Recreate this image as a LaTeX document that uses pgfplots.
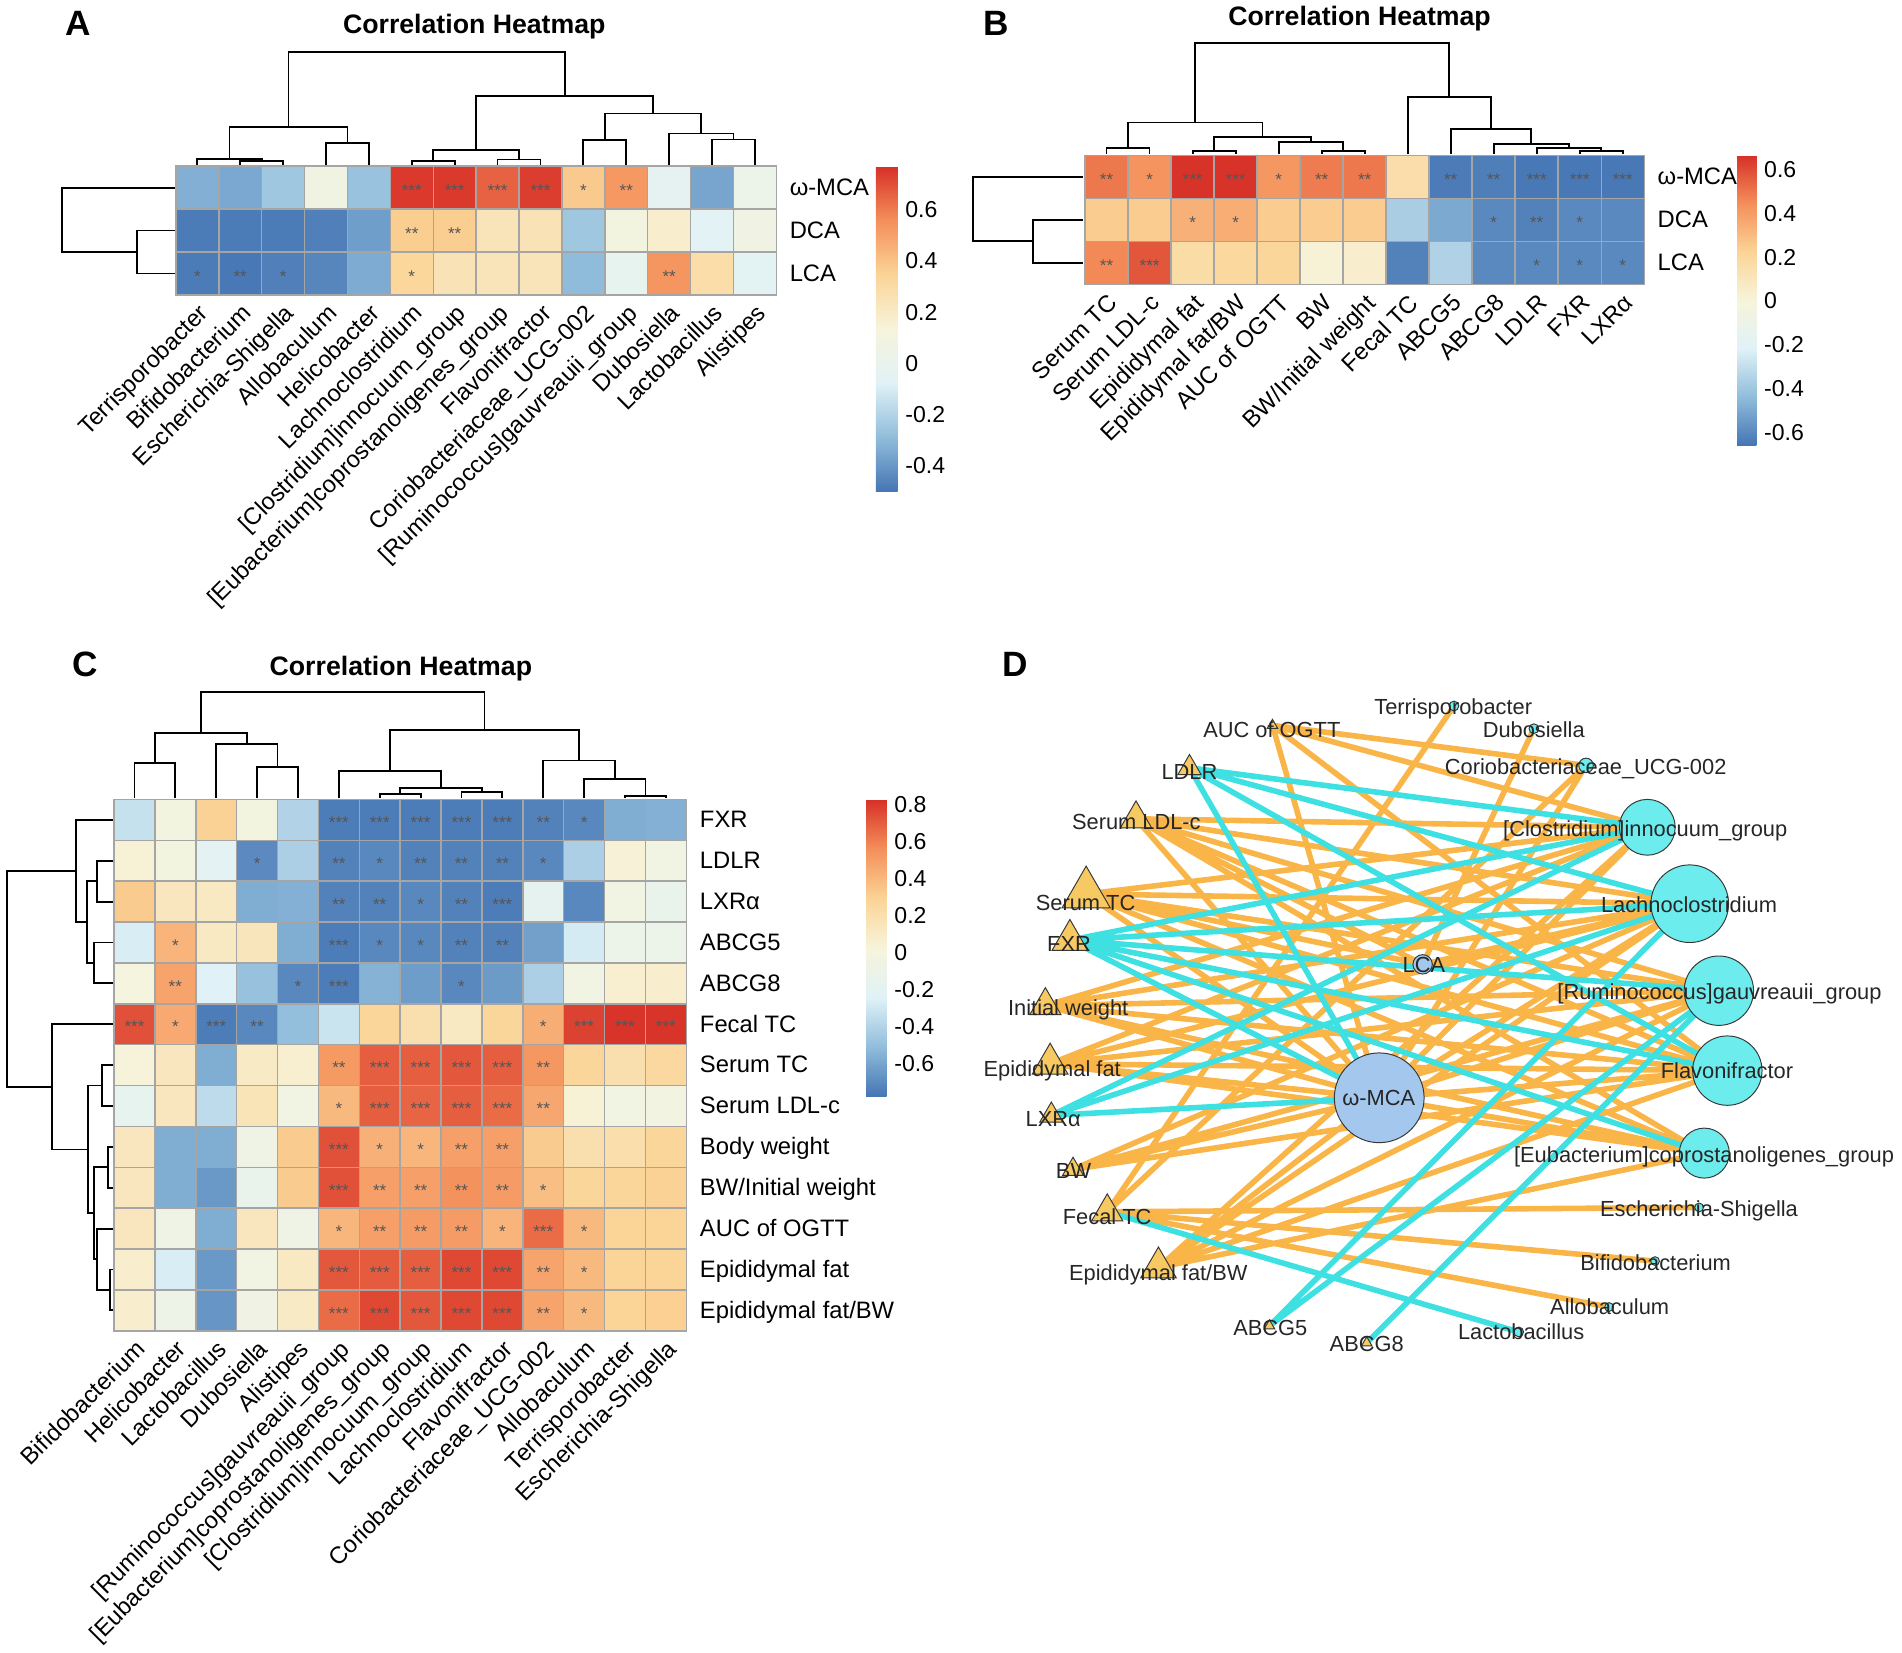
\documentclass[border=0pt]{standalone}
\usepackage{pgfplots}
\pgfplotsset{compat=1.18}
\usepackage{fontspec}
\setmainfont{Liberation Sans}
\definecolor{cellgray}{RGB}{165,165,165}
\definecolor{stargray}{RGB}{85,85,85}
\definecolor{edgeorange}{RGB}{249,181,72}
\definecolor{edgecyan}{RGB}{62,224,226}
\definecolor{trifill}{RGB}{246,201,98}
\definecolor{bacfill}{RGB}{108,236,237}
\definecolor{bafill}{RGB}{164,199,238}
\definecolor{nodeedge}{RGB}{55,55,55}
\newcommand\lab{\fontsize{9.8}{11}\selectfont}
\newcommand\cbl{\fontsize{9.5}{11}\selectfont}
\newcommand\ttl{\fontsize{11}{13}\selectfont\bfseries}
\newcommand\pl{\fontsize{14.5}{16}\selectfont\bfseries}
\newcommand\dl{\fontsize{9}{10}\selectfont}
\pgfplotsset{
  colormap={phm}{rgb255=(69,117,180) rgb255=(145,189,219) rgb255=(224,242,247) rgb255=(247,244,219) rgb255=(251,212,150) rgb255=(244,143,90) rgb255=(215,48,39)},
  ovl/.style={at={(0pt,0pt)}, anchor=south west, scale only axis, width=784pt, height=681pt,
    xmin=0, xmax=1568, ymin=0, ymax=1362, y dir=reverse, hide axis, clip=false, colormap name=phm,
    colorbar shift/.style={}},
  cell/.style={scatter, only marks, mark=square*, mark size=#1, point meta=explicit,
    scatter/use mapped color={draw=cellgray, fill=mapped color}, mark options={line width=0.6pt}},
  stars/.style={only marks, mark=none, point meta=explicit symbolic,
    nodes near coords={\pgfplotspointmeta}, nodes near coords align=center,
    every node near coord/.append style={font=\fontsize{7}{7}\selectfont, text=stargray, inner sep=0pt, anchor=center, yshift=-1.2pt}},
  dendro/.style={black, line width=0.75pt, unbounded coords=jump, mark=none},
  cbstyle/.style={anchor=north west, scale only axis, major tick length=0pt, axis line style={draw=none},
    yticklabel style={font=\cbl, inner sep=1pt, xshift=2pt}},
  table/rowtab/.style={header=false, row sep=\\, meta index=0},
  netnode/.style={scatter, only marks, mark=#1, point meta=explicit},
}
\begin{document}
\begin{tikzpicture}
\useasboundingbox (0,0) rectangle (784pt,681pt);
% ================= PANEL A =================
\begin{axis}[ovl, colorbar, point meta min=-0.5, point meta max=0.77,
  colorbar style={cbstyle, at={(361pt,612.5pt)}, width=9pt, height=134pt,
    ytick={-0.4,-0.2,0,0.2,0.4,0.6}, yticklabels={-0.4,-0.2,0,0.2,0.4,0.6}}]
\addplot[cell=8.84pt] table[rowtab, x expr={145+35.36*(\coordindex+0.5)}, y expr={154.68}]
{-0.33\\-0.35\\-0.25\\0.08\\-0.27\\0.75\\0.75\\0.66\\0.74\\0.38\\0.53\\-0.03\\-0.36\\0.03\\};
\addplot[cell=8.84pt] table[rowtab, x expr={145+35.36*(\coordindex+0.5)}, y expr={190.04}]
{-0.48\\-0.48\\-0.48\\-0.47\\-0.38\\0.37\\0.37\\0.24\\0.25\\-0.25\\0.10\\0.18\\-0.06\\0.07\\};
\addplot[cell=8.84pt] table[rowtab, x expr={145+35.36*(\coordindex+0.5)}, y expr={225.4}]
{-0.48\\-0.49\\-0.47\\-0.45\\-0.34\\0.33\\0.25\\0.24\\0.24\\-0.29\\-0.01\\0.54\\0.29\\-0.05\\};
\addplot[stars] table[x expr={145+35.36*(\thisrow{c}-0.5)}, y expr={137+35.36*(\thisrow{r}-0.5)}, meta=s] {
c r s
6 1 ***
7 1 ***
8 1 ***
9 1 ***
10 1 *
11 1 **
6 2 **
7 2 **
1 3 *
2 3 **
3 3 *
6 3 *
12 3 **
};
\addplot[dendro] coordinates {
(198.04,136) (198.04,132.5) (233.4,132.5) (233.4,136) (nan,nan)
(162.68,136) (162.68,131) (215.72,131) (215.72,132.5) (nan,nan)
(268.76,136) (268.76,118) (304.12,118) (304.12,136) (nan,nan)
(189.2,131) (189.2,104.5) (286.44,104.5) (286.44,118) (nan,nan)
(339.48,136) (339.48,133) (374.84,133) (374.84,136) (nan,nan)
(410.2,136) (410.2,131.5) (445.56,131.5) (445.56,136) (nan,nan)
(357.16,133) (357.16,123.7) (427.88,123.7) (427.88,131.5) (nan,nan)
(480.92,136) (480.92,115.5) (516.28,115.5) (516.28,136) (nan,nan)
(587.0,136) (587.0,115) (622.36,115) (622.36,136) (nan,nan)
(551.64,136) (551.64,110) (604.68,110) (604.68,115) (nan,nan)
(498.6,115.5) (498.6,93.5) (578.16,93.5) (578.16,110) (nan,nan)
(392.52,123.7) (392.52,79) (538.38,79) (538.38,93.5) (nan,nan)
(237.82,104.5) (237.82,43) (465.45,43) (465.45,79) (nan,nan)
(144,190.04) (113.2,190.04) (113.2,225.4) (144,225.4) (nan,nan)
(144,154.68) (51.4,154.68) (51.4,207.72) (113.2,207.72)
};
\node[font=\lab, anchor=base west] at (axis cs:644,161.2) {ω-MCA};
\node[font=\lab, anchor=base west] at (axis cs:644,196.5) {DCA};
\node[font=\lab, anchor=base west] at (axis cs:644,231.9) {LCA};
\begin{scope}[every node/.style={font=\lab, rotate=45, anchor=north east, inner sep=1pt}]
\node at (axis cs:162.68,246) {Terrisporobacter};
\node at (axis cs:198.04,246) {Bifidobacterium};
\node at (axis cs:233.4,246) {Escherichia-Shigella};
\node at (axis cs:268.76,246) {Allobaculum};
\node at (axis cs:304.12,246) {Helicobacter};
\node at (axis cs:339.48,246) {Lachnoclostridium};
\node at (axis cs:374.84,246) {[Clostridium]innocuum\_group};
\node at (axis cs:410.2,246) {[Eubacterium]coprostanoligenes\_group};
\node at (axis cs:445.56,246) {Flavonifractor};
\node at (axis cs:480.92,246) {Coriobacteriaceae\_UCG-002};
\node at (axis cs:516.28,246) {[Ruminococcus]gauvreauii\_group};
\node at (axis cs:551.64,246) {Dubosiella};
\node at (axis cs:587.0,246) {Lactobacillus};
\node at (axis cs:622.36,246) {Alistipes};
\end{scope}
\node[font=\ttl, anchor=base] at (axis cs:391,27.5) {Correlation Heatmap};
\node[font=\pl, anchor=base] at (axis cs:64.5,28.9) {A};
\end{axis}
% ================= PANEL B =================
\begin{axis}[ovl, colorbar, point meta min=-0.66, point meta max=0.667,
  colorbar style={cbstyle, at={(716pt,617pt)}, width=8pt, height=119.5pt,
    ytick={-0.6,-0.4,-0.2,0,0.2,0.4,0.6}, yticklabels={-0.6,-0.4,-0.2,0,0.2,0.4,0.6}}]
\addplot[cell=8.865pt] table[rowtab, x expr={894.5+35.46*(\coordindex+0.5)}, y expr={145.75}]
{0.50\\0.43\\0.66\\0.66\\0.42\\0.49\\0.50\\0.16\\-0.64\\-0.63\\-0.65\\-0.65\\-0.65\\};
\addplot[cell=8.865pt] table[rowtab, x expr={894.5+35.46*(\coordindex+0.5)}, y expr={181.25}]
{0.25\\0.25\\0.34\\0.35\\0.25\\0.25\\0.25\\-0.37\\-0.50\\-0.60\\-0.62\\-0.60\\-0.60\\};
\addplot[cell=8.865pt] table[rowtab, x expr={894.5+35.46*(\coordindex+0.5)}, y expr={216.75}]
{0.46\\0.58\\0.17\\0.20\\0.21\\0.02\\0.05\\-0.62\\-0.35\\-0.60\\-0.60\\-0.60\\-0.60\\};
\addplot[stars] table[x expr={894.5+35.46*(\thisrow{c}-0.5)}, y expr={128+35.5*(\thisrow{r}-0.5)}, meta=s] {
c r s
1 1 **
2 1 *
3 1 ***
4 1 ***
5 1 *
6 1 **
7 1 **
9 1 **
10 1 **
11 1 ***
12 1 ***
13 1 ***
3 2 *
4 2 *
10 2 *
11 2 **
12 2 *
1 3 **
2 3 ***
11 3 *
12 3 *
13 3 *
};
\addplot[dendro] coordinates {
(912.23,127) (912.23,121.7) (947.69,121.7) (947.69,127) (nan,nan)
(983.15,127) (983.15,124.5) (1018.61,124.5) (1018.61,127) (nan,nan)
(1089.53,127) (1089.53,124.5) (1124.99,124.5) (1124.99,127) (nan,nan)
(1054.07,127) (1054.07,117) (1107.26,117) (1107.26,124.5) (nan,nan)
(1000.88,124.5) (1000.88,113) (1080.67,113) (1080.67,117) (nan,nan)
(929.96,121.7) (929.96,101) (1040.78,101) (1040.78,113) (nan,nan)
(1302.29,127) (1302.29,124.5) (1337.75,124.5) (1337.75,127) (nan,nan)
(1266.83,127) (1266.83,121.7) (1320.02,121.7) (1320.02,124.5) (nan,nan)
(1231.37,127) (1231.37,118.7) (1293.43,118.7) (1293.43,121.7) (nan,nan)
(1195.91,127) (1195.91,106.6) (1262.4,106.6) (1262.4,118.7) (nan,nan)
(1160.45,127) (1160.45,79.7) (1229.16,79.7) (1229.16,106.6) (nan,nan)
(985.37,101) (985.37,35.7) (1194.8,35.7) (1194.8,79.7) (nan,nan)
(893,181.25) (851.3,181.25) (851.3,216.75) (893,216.75) (nan,nan)
(893,145.75) (802.4,145.75) (802.4,199) (851.3,199)
};
\node[font=\lab, anchor=base west] at (axis cs:1359.5,152.3) {ω-MCA};
\node[font=\lab, anchor=base west] at (axis cs:1359.5,187.8) {DCA};
\node[font=\lab, anchor=base west] at (axis cs:1359.5,223.3) {LCA};
\begin{scope}[every node/.style={font=\lab, rotate=45, anchor=north east, inner sep=1pt}]
\node at (axis cs:912.23,238) {Serum TC};
\node at (axis cs:947.69,238) {Serum LDL-c};
\node at (axis cs:983.15,238) {Epididymal fat};
\node at (axis cs:1018.61,238) {Epididymal fat/BW};
\node at (axis cs:1054.07,238) {AUC of OGTT};
\node at (axis cs:1089.53,238) {BW};
\node at (axis cs:1124.99,238) {BW/Initial weight};
\node at (axis cs:1160.45,238) {Fecal TC};
\node at (axis cs:1195.91,238) {ABCG5};
\node at (axis cs:1231.37,238) {ABCG8};
\node at (axis cs:1266.83,238) {LDLR};
\node at (axis cs:1302.29,238) {FXR};
\node at (axis cs:1337.75,238) {LXRα};
\end{scope}
\node[font=\ttl, anchor=base] at (axis cs:1120.8,21.2) {Correlation Heatmap};
\node[font=\pl, anchor=base] at (axis cs:821.6,28.9) {B};
\end{axis}
% ================= PANEL C =================
\begin{axis}[ovl, colorbar, point meta min=-0.78, point meta max=0.83,
  colorbar style={cbstyle, at={(357pt,351.5pt)}, width=8.5pt, height=122.5pt,
    ytick={-0.6,-0.4,-0.2,0,0.2,0.4,0.6,0.8}, yticklabels={-0.6,-0.4,-0.2,0,0.2,0.4,0.6,0.8}}]
\addplot[cell=8.425pt] table[rowtab, x expr={94+33.7*(\coordindex+0.5)}, y expr={675.85}]
{-0.33\\-0.02\\0.30\\-0.02\\-0.40\\-0.75\\-0.75\\-0.75\\-0.75\\-0.75\\-0.73\\-0.71\\-0.57\\-0.56\\};
\addplot[cell=8.425pt] table[rowtab, x expr={94+33.7*(\coordindex+0.5)}, y expr={709.55}]
{0.05\\-0.02\\-0.20\\-0.70\\-0.42\\-0.73\\-0.71\\-0.73\\-0.73\\-0.73\\-0.71\\-0.42\\0.04\\-0.04\\};
\addplot[cell=8.425pt] table[rowtab, x expr={94+33.7*(\coordindex+0.5)}, y expr={743.25}]
{0.33\\0.14\\0.12\\-0.57\\-0.56\\-0.73\\-0.73\\-0.71\\-0.73\\-0.75\\-0.18\\-0.71\\-0.05\\-0.14\\};
\addplot[cell=8.425pt] table[rowtab, x expr={94+33.7*(\coordindex+0.5)}, y expr={776.95}]
{-0.27\\0.42\\0.12\\0.15\\-0.57\\-0.75\\-0.71\\-0.71\\-0.73\\-0.73\\-0.62\\-0.28\\-0.10\\-0.10\\};
\addplot[cell=8.425pt] table[rowtab, x expr={94+33.7*(\coordindex+0.5)}, y expr={810.65}]
{0.00\\0.48\\-0.24\\-0.49\\-0.71\\-0.75\\-0.55\\-0.63\\-0.71\\-0.64\\-0.42\\-0.04\\0.07\\0.08\\};
\addplot[cell=8.425pt] table[rowtab, x expr={94+33.7*(\coordindex+0.5)}, y expr={844.35}]
{0.74\\0.46\\-0.75\\-0.71\\-0.50\\-0.32\\0.28\\0.20\\0.12\\0.28\\0.44\\0.78\\0.82\\0.82\\};
\addplot[cell=8.425pt] table[rowtab, x expr={94+33.7*(\coordindex+0.5)}, y expr={878.05}]
{0.03\\0.14\\-0.57\\0.11\\0.07\\0.52\\0.70\\0.70\\0.72\\0.70\\0.53\\0.28\\0.20\\0.26\\};
\addplot[cell=8.425pt] table[rowtab, x expr={94+33.7*(\coordindex+0.5)}, y expr={911.75}]
{-0.17\\0.14\\-0.36\\0.16\\-0.05\\0.40\\0.70\\0.68\\0.70\\0.66\\0.47\\0.05\\-0.04\\-0.03\\};
\addplot[cell=8.425pt] table[rowtab, x expr={94+33.7*(\coordindex+0.5)}, y expr={945.45}]
{0.14\\-0.57\\-0.57\\-0.08\\0.33\\0.74\\0.43\\0.41\\0.50\\0.50\\0.33\\0.20\\0.21\\0.28\\};
\addplot[cell=8.425pt] table[rowtab, x expr={94+33.7*(\coordindex+0.5)}, y expr={979.15}]
{0.14\\-0.57\\-0.65\\-0.14\\0.33\\0.74\\0.50\\0.50\\0.55\\0.51\\0.38\\0.28\\0.28\\0.30\\};
\addplot[cell=8.425pt] table[rowtab, x expr={94+33.7*(\coordindex+0.5)}, y expr={1012.85}]
{0.14\\-0.08\\-0.57\\0.14\\-0.08\\0.41\\0.50\\0.51\\0.51\\0.42\\0.66\\0.40\\0.29\\0.29\\};
\addplot[cell=8.425pt] table[rowtab, x expr={94+33.7*(\coordindex+0.5)}, y expr={1046.55}]
{0.08\\-0.27\\-0.65\\-0.04\\0.12\\0.72\\0.71\\0.70\\0.76\\0.76\\0.48\\0.40\\0.29\\0.29\\};
\addplot[cell=8.425pt] table[rowtab, x expr={94+33.7*(\coordindex+0.5)}, y expr={1080.25}]
{0.08\\-0.09\\-0.66\\-0.06\\0.11\\0.66\\0.76\\0.72\\0.76\\0.76\\0.48\\0.40\\0.29\\0.31\\};
\addplot[stars] table[x expr={94+33.7*(\thisrow{c}-0.5)}, y expr={659+33.7*(\thisrow{r}-0.5)}, meta=s] {
c r s
6 1 ***
7 1 ***
8 1 ***
9 1 ***
10 1 ***
11 1 **
12 1 *
4 2 *
6 2 **
7 2 *
8 2 **
9 2 **
10 2 **
11 2 *
6 3 **
7 3 **
8 3 *
9 3 **
10 3 ***
2 4 *
6 4 ***
7 4 *
8 4 *
9 4 **
10 4 **
2 5 **
5 5 *
6 5 ***
9 5 *
1 6 ***
2 6 *
3 6 ***
4 6 **
11 6 *
12 6 ***
13 6 ***
14 6 ***
6 7 **
7 7 ***
8 7 ***
9 7 ***
10 7 ***
11 7 **
6 8 *
7 8 ***
8 8 ***
9 8 ***
10 8 ***
11 8 **
6 9 ***
7 9 *
8 9 *
9 9 **
10 9 **
6 10 ***
7 10 **
8 10 **
9 10 **
10 10 **
11 10 *
6 11 *
7 11 **
8 11 **
9 11 **
10 11 *
11 11 ***
12 11 *
6 12 ***
7 12 ***
8 12 ***
9 12 ***
10 12 ***
11 12 **
12 12 *
6 13 ***
7 13 ***
8 13 ***
9 13 ***
10 13 ***
11 13 **
12 13 *
};
\addplot[dendro] coordinates {
(110.85,658) (110.85,629.3) (144.55,629.3) (144.55,658) (nan,nan)
(211.95,658) (211.95,632) (245.65,632) (245.65,658) (nan,nan)
(178.25,658) (178.25,613.6) (228.8,613.6) (228.8,632) (nan,nan)
(127.7,629.3) (127.7,604.6) (203.53,604.6) (203.53,613.6) (nan,nan)
(313.05,658) (313.05,654.8) (346.75,654.8) (346.75,658) (nan,nan)
(380.45,658) (380.45,652.7) (414.15,652.7) (414.15,658) (nan,nan)
(329.9,654.8) (329.9,649.9) (397.3,649.9) (397.3,652.7) (nan,nan)
(279.35,658) (279.35,635.3) (363.6,635.3) (363.6,649.9) (nan,nan)
(515.25,658) (515.25,656) (548.95,656) (548.95,658) (nan,nan)
(481.55,658) (481.55,642.2) (532.1,642.2) (532.1,656) (nan,nan)
(447.85,658) (447.85,627) (506.83,627) (506.83,642.2) (nan,nan)
(321.48,635.3) (321.48,601.8) (477.34,601.8) (477.34,627) (nan,nan)
(165.6,604.6) (165.6,570.8) (399.41,570.8) (399.41,601.8) (nan,nan)
(93,709.55) (79.7,709.55) (79.7,743.25) (93,743.25) (nan,nan)
(93,776.95) (77.8,776.95) (77.8,810.65) (93,810.65) (nan,nan)
(79.7,726.4) (72,726.4) (72,793.8) (77.8,793.8) (nan,nan)
(93,675.85) (62.7,675.85) (62.7,760.1) (72,760.1) (nan,nan)
(93,878.05) (83.8,878.05) (83.8,911.75) (93,911.75) (nan,nan)
(93,945.45) (89.3,945.45) (89.3,979.15) (93,979.15) (nan,nan)
(93,1046.55) (90.7,1046.55) (90.7,1080.25) (93,1080.25) (nan,nan)
(93,1012.85) (79.7,1012.85) (79.7,1063.4) (90.7,1063.4) (nan,nan)
(89.3,962.3) (77.8,962.3) (77.8,1038.1) (79.7,1038.1) (nan,nan)
(83.8,894.9) (72.8,894.9) (72.8,1000.2) (77.8,1000.2) (nan,nan)
(93,844.35) (43.1,844.35) (43.1,947.6) (72.8,947.6) (nan,nan)
(62.7,718) (6,718) (6,896) (43.1,896)
};
\begin{scope}[every node/.style={font=\lab, anchor=base west}]
\node at (axis cs:570,682.35) {FXR};
\node at (axis cs:570,716.05) {LDLR};
\node at (axis cs:570,749.75) {LXRα};
\node at (axis cs:570,783.45) {ABCG5};
\node at (axis cs:570,817.15) {ABCG8};
\node at (axis cs:570,850.85) {Fecal TC};
\node at (axis cs:570,884.55) {Serum TC};
\node at (axis cs:570,918.25) {Serum LDL-c};
\node at (axis cs:570,951.95) {Body weight};
\node at (axis cs:570,985.65) {BW/Initial weight};
\node at (axis cs:570,1019.35) {AUC of OGTT};
\node at (axis cs:570,1053.05) {Epididymal fat};
\node at (axis cs:570,1086.75) {Epididymal fat/BW};
\end{scope}
\begin{scope}[every node/.style={font=\lab, rotate=45, anchor=north east, inner sep=1pt}]
\node at (axis cs:110.85,1100) {Bifidobacterium};
\node at (axis cs:144.55,1100) {Helicobacter};
\node at (axis cs:178.25,1100) {Lactobacillus};
\node at (axis cs:211.95,1100) {Dubosiella};
\node at (axis cs:245.65,1100) {Alistipes};
\node at (axis cs:279.35,1100) {[Ruminococcus]gauvreauii\_group};
\node at (axis cs:313.05,1100) {[Eubacterium]coprostanoligenes\_group};
\node at (axis cs:346.75,1100) {[Clostridium]innocuum\_group};
\node at (axis cs:380.45,1100) {Lachnoclostridium};
\node at (axis cs:414.15,1100) {Flavonifractor};
\node at (axis cs:447.85,1100) {Coriobacteriaceae\_UCG-002};
\node at (axis cs:481.55,1100) {Allobaculum};
\node at (axis cs:515.25,1100) {Terrisporobacter};
\node at (axis cs:548.95,1100) {Escherichia-Shigella};
\end{scope}
\node[font=\ttl, anchor=base] at (axis cs:330.5,557) {Correlation Heatmap};
\node[font=\pl, anchor=base] at (axis cs:70,558) {C};
\end{axis}
% ================= PANEL D: edges and nodes =================
\begin{axis}[ovl]
\addplot[edgeorange, line width=2.3pt, unbounded coords=jump, mark=none] coordinates {
(1137,905) (895.4,737) (nan,nan)
(1137,905) (936.5,675) (nan,nan)
(1137,905) (861.8,829) (nan,nan)
(1137,905) (865.7,877) (nan,nan)
(1137,905) (884.6,964) (nan,nan)
(1137,905) (955,1045) (nan,nan)
(1137,905) (1049,598) (nan,nan)
(1137,905) (1358,682) (nan,nan)
(1137,905) (1393,745) (nan,nan)
(1137,905) (1417,816.7) (nan,nan)
(1137,905) (1424,882.6) (nan,nan)
(1137,905) (1405,950.6) (nan,nan)
(1137,905) (1307.5,631) (nan,nan)
(1172.8,795) (1264.5,600.7) (nan,nan)
(1172.8,795) (1393,745) (nan,nan)
(1172.8,795) (895.4,737) (nan,nan)
(1172.8,795) (936.5,675) (nan,nan)
(936.5,675) (1358,682) (nan,nan)
(936.5,675) (1393,745) (nan,nan)
(936.5,675) (1417,816.7) (nan,nan)
(936.5,675) (1424,882.6) (nan,nan)
(936.5,675) (1405,950.6) (nan,nan)
(895.4,737) (1358,682) (nan,nan)
(895.4,737) (1393,745) (nan,nan)
(895.4,737) (1417,816.7) (nan,nan)
(895.4,737) (1424,882.6) (nan,nan)
(895.4,737) (1405,950.6) (nan,nan)
(861.8,829) (1358,682) (nan,nan)
(861.8,829) (1393,745) (nan,nan)
(861.8,829) (1417,816.7) (nan,nan)
(861.8,829) (1424,882.6) (nan,nan)
(861.8,829) (1405,950.6) (nan,nan)
(865.7,877) (1358,682) (nan,nan)
(865.7,877) (1393,745) (nan,nan)
(865.7,877) (1417,816.7) (nan,nan)
(865.7,877) (1424,882.6) (nan,nan)
(865.7,877) (1405,950.6) (nan,nan)
(884.6,964) (1393,745) (nan,nan)
(884.6,964) (1417,816.7) (nan,nan)
(884.6,964) (1424,882.6) (nan,nan)
(955,1045) (1358,682) (nan,nan)
(955,1045) (1393,745) (nan,nan)
(955,1045) (1417,816.7) (nan,nan)
(955,1045) (1424,882.6) (nan,nan)
(955,1045) (1405,950.6) (nan,nan)
(1049,598) (1307.5,631) (nan,nan)
(1049,598) (1358,682) (nan,nan)
(1049,598) (1424,882.6) (nan,nan)
(912.8,999) (1198.6,582) (nan,nan)
(912.8,999) (1400.7,995.4) (nan,nan)
(912.8,999) (1364.4,1039.6) (nan,nan)
(912.8,999) (1326.5,1077.5) (nan,nan)
(912.8,999) (1307.5,631)
};
\addplot[edgecyan, line width=2.3pt, unbounded coords=jump, mark=none] coordinates {
(980.6,633) (1358,682) (nan,nan)
(980.6,633) (1393,745) (nan,nan)
(980.6,633) (1424,882.6) (nan,nan)
(980.6,633) (1137,905) (nan,nan)
(882,775) (1358,682) (nan,nan)
(882,775) (1393,745) (nan,nan)
(882,775) (1417,816.7) (nan,nan)
(882,775) (1424,882.6) (nan,nan)
(882,775) (1405,950.6) (nan,nan)
(882,775) (1137,905) (nan,nan)
(866.7,919.5) (1358,682) (nan,nan)
(866.7,919.5) (1393,745) (nan,nan)
(866.7,919.5) (1137,905) (nan,nan)
(1046.5,1093) (1393,745) (nan,nan)
(1046.5,1093) (1417,816.7) (nan,nan)
(1126.7,1107) (1417,816.7) (nan,nan)
(912.8,999) (1252,1098)
};
\addplot[netnode=triangle*,
  scatter/use mapped color={draw=nodeedge, fill=trifill},
  visualization depends on={\thisrow{r} \as \nr},
  scatter/@pre marker code/.append style={/tikz/mark size=\nr, /tikz/line width=0.5pt}]
  table[x=x, y=y, meta=r] {
x y r
1049 598 2.5
980.6 633 5.5
936.5 675 7.4
895.4 737 11.5
882 775 8.5
861.8 829 7.4
865.7 877 8.5
866.7 919.5 5.5
884.6 964 5
912.8 999 7.4
955 1045 8.5
1046.5 1093 2.5
1126.7 1107 2.5
};
\addplot[netnode=*,
  scatter/use mapped color={draw=nodeedge, fill=bacfill},
  visualization depends on={\thisrow{r} \as \nr},
  scatter/@pre marker code/.append style={/tikz/mark size=\nr, /tikz/line width=0.5pt}]
  table[x=x, y=y, meta=r] {
x y r
1198.6 582 2
1264.5 600.7 2
1307.5 631 3
1358 682 11.5
1393 745 16
1417 816.7 14.3
1424 882.6 14.3
1405 950.6 10.3
1400.7 995.4 1.8
1364.4 1039.6 1.8
1326.5 1077.5 1.8
1252 1098 2
};
\addplot[netnode=*,
  scatter/use mapped color={draw=nodeedge, fill=bafill},
  visualization depends on={\thisrow{r} \as \nr},
  scatter/@pre marker code/.append style={/tikz/mark size=\nr, /tikz/line width=0.5pt}]
  table[x=x, y=y, meta=r] {
x y r
1137 905 18.5
1172.8 795 4
};
\end{axis}
% ================= PANEL D: labels on top =================
\begin{axis}[ovl]
\addplot[draw=none, mark=none] coordinates {(837,557.5)};
\begin{scope}[every node/.style={font=\dl, anchor=base, text=black!85, inner sep=0pt}]
\node at (axis cs:1198,589.4) {Terrisporobacter};
\node at (axis cs:1264.4,607.9) {Dubosiella};
\node at (axis cs:1307.2,638.2) {Coriobacteriaceae\_UCG-002};
\node at (axis cs:1356.3,689.3) {[Clostridium]innocuum\_group};
\node at (axis cs:1392.4,752.2) {Lachnoclostridium};
\node at (axis cs:1417.5,823.6) {[Ruminococcus]gauvreauii\_group};
\node at (axis cs:1423.7,889.1) {Flavonifractor};
\node at (axis cs:1404.8,958.6) {[Eubacterium]coprostanoligenes\_group};
\node at (axis cs:1400.6,1002.6) {Escherichia-Shigella};
\node at (axis cs:1364.9,1047.4) {Bifidobacterium};
\node at (axis cs:1327,1084) {Allobaculum};
\node at (axis cs:1254,1104.4) {Lactobacillus};
\node at (axis cs:1126.7,1114) {ABCG8};
\node at (axis cs:1047.2,1100.7) {ABCG5};
\node at (axis cs:1136.6,911.3) {ω-MCA};
\node at (axis cs:1173.8,801.4) {LCA};
\node at (axis cs:1048.5,607.9) {AUC of OGTT};
\node at (axis cs:980.6,642.3) {LDLR};
\node at (axis cs:936.8,683.7) {Serum LDL-c};
\node at (axis cs:894.9,750.3) {Serum TC};
\node at (axis cs:881.3,784.3) {FXR};
\node at (axis cs:880.6,837.3) {Initial weight};
\node at (axis cs:867.4,887.2) {Epididymal fat};
\node at (axis cs:868.2,928.6) {LXRα};
\node at (axis cs:885,971.2) {BW};
\node at (axis cs:912.7,1009.4) {Fecal TC};
\node at (axis cs:954.9,1055.6) {Epididymal fat/BW};
\end{scope}
\node[font=\pl, anchor=base] at (axis cs:837,557.5) {D};
\end{axis}
\end{tikzpicture}
\end{document}
